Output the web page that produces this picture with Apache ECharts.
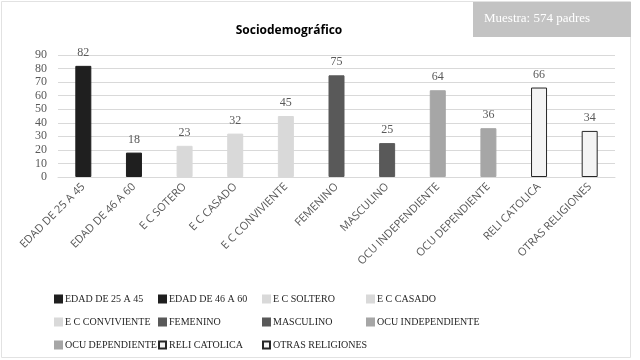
<!DOCTYPE html>
<html>
<head>
<meta charset="utf-8">
<script src="https://cdn.jsdelivr.net/npm/echarts@6/dist/echarts.min.js"></script>
<style>
  html, body { margin: 0; padding: 0; background: #fff; }
  #chart { width: 640px; height: 360px; }
</style>
</head>
<body>
<div id="chart"></div>
<script>
// axis categories (as written under the bars)
const categories = [
  "EDAD DE 25 A 45", "EDAD DE 46 A 60", "E C SOTERO", "E C CASADO", "E C CONVIVIENTE",
  "FEMENINO", "MASCULINO", "OCU INDEPENDIENTE", "OCU DEPENDIENTE", "RELI CATOLICA", "OTRAS RELIGIONES"
];
// legend names (one series per bar)
const seriesNames = [
  "EDAD DE 25 A 45", "EDAD DE 46 A 60", "E C SOLTERO", "E C CASADO", "E C CONVIVIENTE",
  "FEMENINO", "MASCULINO", "OCU INDEPENDIENTE", "OCU DEPENDIENTE", "RELI CATOLICA", "OTRAS RELIGIONES"
];
const values = [82, 18, 23, 32, 45, 75, 25, 64, 36, 66, 34];
const yTicks = [0, 10, 20, 30, 40, 50, 60, 70, 80, 90];

const fills = ["#1f1f1f", "#1f1f1f", "#d9d9d9", "#d9d9d9", "#d9d9d9",
  "#595959", "#595959", "#a6a6a6", "#a6a6a6", "#f4f4f4", "#f4f4f4"];
const borders = ["#1f1f1f", "#1f1f1f", "#d9d9d9", "#d9d9d9", "#d9d9d9",
  "#595959", "#595959", "#a6a6a6", "#a6a6a6", "#262626", "#262626"];

const chart = echarts.init(document.getElementById("chart"));

const series = seriesNames.map((name, i) => ({
  name: name,
  type: "bar",
  stack: "one",
  barWidth: 16,
  data: values.map((v, j) => (j === i ? v : "-")),
  itemStyle: { color: fills[i], borderColor: borders[i], borderWidth: 1 },
  label: {
    show: true,
    position: "top",
    distance: 7,
    color: "#595959",
    fontFamily: "Liberation Serif",
    fontSize: 12
  }
}));

const legendCols = [
  { left: 54, names: [seriesNames[0], seriesNames[4], seriesNames[8]] },
  { left: 158, names: [seriesNames[1], seriesNames[5], seriesNames[9]] },
  { left: 262, names: [seriesNames[2], seriesNames[6], seriesNames[10]] },
  { left: 366, names: [seriesNames[3], seriesNames[7]] }
];

chart.setOption({
  animation: false,
  title: {
    text: "Sociodemográfico",
    left: 284,
    textAlign: "center",
    top: 20,
    textStyle: { fontFamily: "Open Sans", fontWeight: "bold", fontSize: 12, color: "#000" }
  },
  grid: { left: 58, right: 25, top: 55, bottom: 183 },
  legend: legendCols.map(c => ({
    data: c.names,
    orient: "vertical",
    left: c.left,
    top: 292,
    itemWidth: 7,
    itemHeight: 7,
    itemGap: 9,
    icon: "rect",
    padding: 0,
    selectedMode: false,
    textStyle: { fontFamily: "Liberation Serif", fontSize: 10, lineHeight: 14, color: "#262626", padding: [0, 0, 0, -2] }
  })),
  xAxis: {
    type: "category",
    data: categories,
    axisLine: { lineStyle: { color: "#d9d9d9" } },
    axisTick: { show: false },
    axisLabel: {
      rotate: 45,
      interval: 0,
      margin: 8,
      color: "#595959",
      fontFamily: "Open Sans",
      fontSize: 11
    }
  },
  yAxis: {
    type: "value",
    min: 0,
    max: yTicks[yTicks.length - 1],
    interval: 10,
    axisLine: { show: false },
    axisTick: { show: false },
    splitLine: { lineStyle: { color: "#d9d9d9" } },
    axisLabel: {
      color: "#595959",
      fontFamily: "Liberation Serif",
      fontSize: 12,
      margin: 11
    }
  },
  graphic: [
    {
      type: "rect",
      shape: { x: 1.5, y: 1.5, width: 629, height: 356 },
      style: { fill: "none", stroke: "#e2e2e2", lineWidth: 1 },
      z: -1
    },
    {
      type: "rect",
      shape: { x: 473, y: 2, width: 158, height: 35 },
      style: { fill: "#c3c3c3" }
    },
    {
      type: "text",
      left: 484,
      top: 12,
      style: { text: "Muestra: 574 padres", fill: "#fff", font: "13px 'Liberation Serif'" }
    }
  ],
  series: series
});
</script>
</body>
</html>
